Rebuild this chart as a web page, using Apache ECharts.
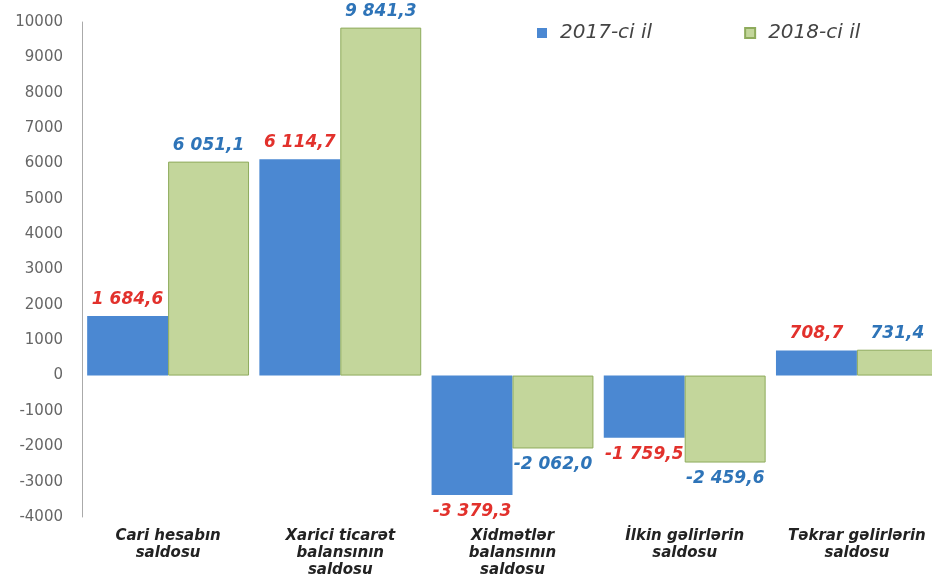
<!DOCTYPE html>
<html><head><meta charset="utf-8">
<script src="https://cdn.jsdelivr.net/npm/echarts@6/dist/echarts.min.js"></script>
<style>html,body{margin:0;padding:0;background:#fff}#c{width:932px;height:585px}</style>
</head><body><div id="c"></div>
<script>
var categories = ["Cari hesabın\nsaldosu", "Xarici ticarət\nbalansının\nsaldosu", "Xidmətlər\nbalansının\nsaldosu", "İlkin gəlirlərin\nsaldosu", "Təkrar gəlirlərin\nsaldosu"];
var seriesNames = ["2017-ci il", "2018-ci il"];
var values2017 = [1684.6, 6114.7, -3379.3, -1759.5, 708.7];
var values2018 = [6051.1, 9841.3, -2062.0, -2459.6, 731.4];

var FONT = 'DejaVu Sans, Liberation Sans, Arial, sans-serif';
function fmt(v){
  var s = Math.abs(v).toFixed(1).split('.');
  var i = s[0].replace(/\B(?=(\d{3})+(?!\d))/g, ' ');
  return (v < 0 ? '-' : '') + i + ',' + s[1];
}
function items(arr){
  return arr.map(function(v){
    return {value: v, label: {position: v < 0 ? 'bottom' : 'top'}};
  });
}
var labelBase = {show: true, fontStyle: 'italic', fontWeight: 'bold', fontSize: 17,
  fontFamily: FONT, distance: 8,
  formatter: function(p){ return fmt(p.value); }};

var chart = echarts.init(document.getElementById('c'));
chart.setOption({
  animation: false,
  backgroundColor: '#fff',
  textStyle: {fontFamily: FONT},
  legend: {
    top: 18, left: 532, itemGap: 92, itemWidth: 10, itemHeight: 10,
    icon: 'rect',
    textStyle: {fontSize: 20, fontStyle: 'italic', color: '#444', fontFamily: FONT, padding: [0,0,0,8]},
    data: seriesNames
  },
  grid: {left: 82, right: -11, top: 22, bottom: 68, outerBoundsMode: 'none', containLabel: false},
  xAxis: {
    type: 'category', data: categories,
    axisLine: {show: false, onZero: false},
    axisTick: {show: false},
    axisLabel: {interval: 0, fontStyle: 'italic', fontWeight: 'bold', fontSize: 15,
      fontFamily: FONT, color: '#222', lineHeight: 17, margin: 11}
  },
  yAxis: {
    type: 'value', min: -4000, max: 10000, interval: 1000,
    axisLine: {show: true, lineStyle: {color: '#aaa'}},
    axisTick: {show: false},
    splitLine: {show: false},
    axisLabel: {fontSize: 15, color: '#666', margin: 19, fontFamily: FONT,
      formatter: function(v){ return String(v); }}
  },
  series: [
    {name: seriesNames[0], type: 'bar', barGap: '0%', barCategoryGap: '6%',
     data: items(values2017),
     itemStyle: {color: '#4b88d2'},
     label: Object.assign({color: '#e2312c'}, labelBase)},
    {name: seriesNames[1], type: 'bar', barGap: '0%', barCategoryGap: '6%',
     data: items(values2018),
     itemStyle: {color: '#c3d69b', borderColor: '#8eab5c', borderWidth: 1},
     label: Object.assign({color: '#2e74b8'}, labelBase)}
  ]
});
</script>
</body></html>
